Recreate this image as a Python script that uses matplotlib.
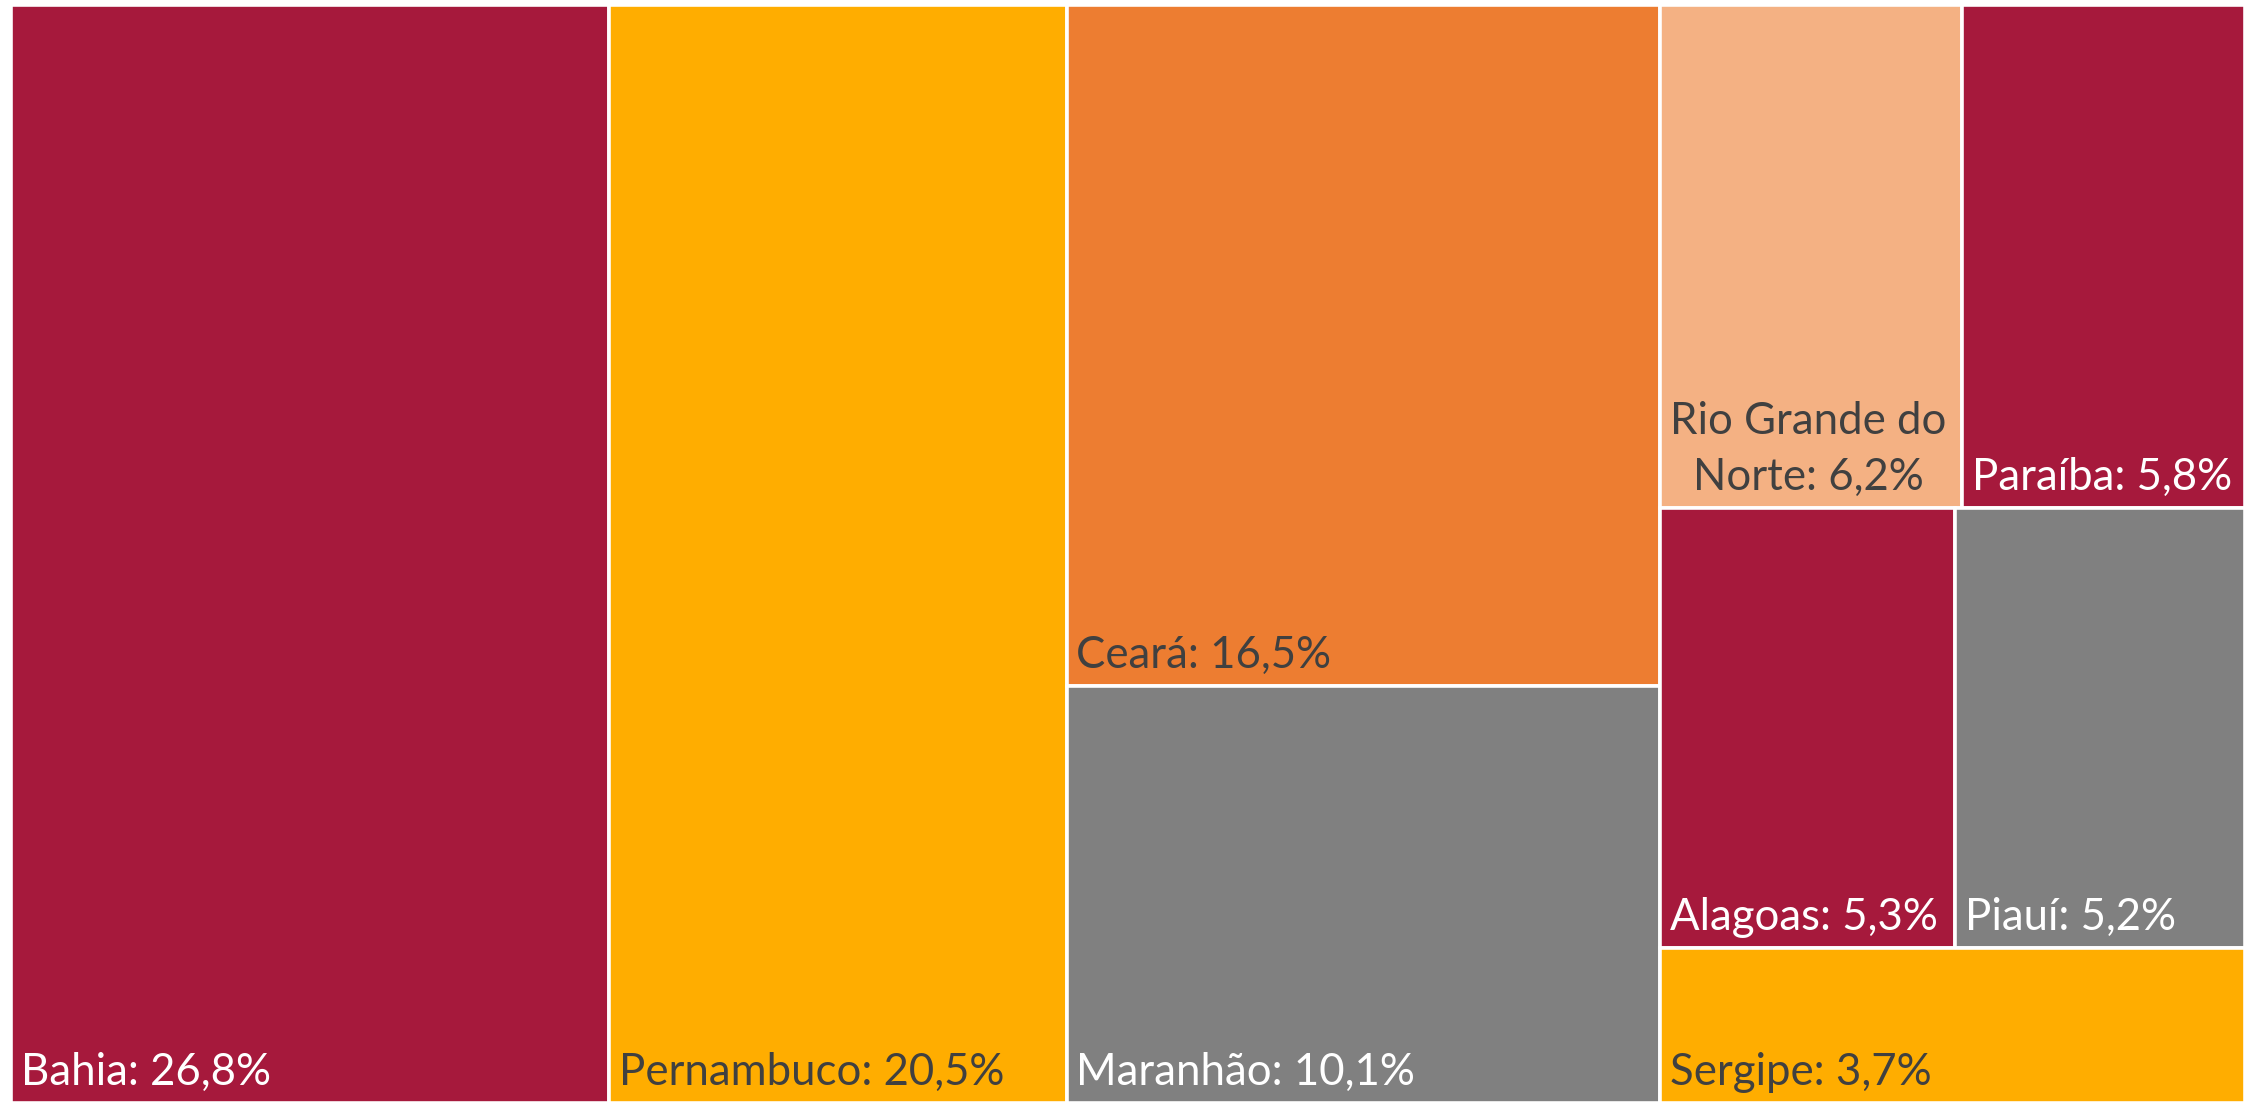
import matplotlib
matplotlib.use("Agg")
import matplotlib.pyplot as plt
from matplotlib.patches import Rectangle

# share of each state (%)
states = ["Bahia", "Pernambuco", "Ceará", "Maranhão", "Rio Grande do Norte",
          "Paraíba", "Alagoas", "Piauí", "Sergipe"]
values = [26.8, 20.5, 16.5, 10.1, 6.2, 5.8, 5.3, 5.2, 3.7]
colors = ["#A6193C", "#FFAD00", "#ED7D31", "#808080", "#F4B183",
          "#A6193C", "#A6193C", "#808080", "#FFAD00"]
text_colors = ["white", "#404040", "#404040", "white", "#404040",
               "white", "white", "white", "#404040"]

# treemap grouping: columns -> rows -> items (indices into states)
columns = [[[0]], [[1]], [[2], [3]], [[4, 5], [6, 7], [8]]]

W, H = 2257, 1103
fig = plt.figure(figsize=(W / 100, H / 100), dpi=100)
ax = fig.add_axes([11 / W, 0, (2245 - 11) / W, (H - 5) / H])
ax.set_xlim(0, 1)
ax.set_ylim(1, 0)
ax.axis("off")

FONT = "Lato"
FS = 31.5
total = sum(values)


def label_text(i):
    return "%s: %s%%" % (states[i], ("%.1f" % values[i]).replace(".", ","))


def layout():
    rects = {}
    x = 0.0
    for col in columns:
        csum = sum(values[i] for row in col for i in row)
        cw = csum / total
        y = 0.0
        for row in col:
            rsum = sum(values[i] for i in row)
            rh = rsum / csum
            xx = x
            for i in row:
                w = cw * values[i] / rsum
                rects[i] = (xx, y, w, rh)
                xx += w
            y += rh
        x += cw
    return rects


rects = layout()
renderer = fig.canvas.get_renderer()
ax_w = ax.get_window_extent().width

for i, (x, y, w, h) in rects.items():
    ax.add_patch(Rectangle((x, y), w, h, facecolor=colors[i],
                           edgecolor="white", linewidth=2.6))
    txt = label_text(i)
    t = ax.annotate(txt, (x, y + h), xytext=(7, 7), textcoords="offset points",
                    ha="left", va="bottom", fontsize=FS, family=FONT,
                    color=text_colors[i], multialignment="center",
                    linespacing=1.45)
    # wrap onto two lines if the label doesn't fit in the box
    avail = w * ax_w - 12
    if t.get_window_extent(renderer).width > avail:
        words = txt.split(" ")
        for k in range(len(words) - 1, 0, -1):
            first = " ".join(words[:k])
            t.set_text(first)
            if t.get_window_extent(renderer).width <= avail:
                t.set_text(first + "\n" + " ".join(words[k:]))
                break

fig.savefig("out.png", dpi=100, facecolor="white")
